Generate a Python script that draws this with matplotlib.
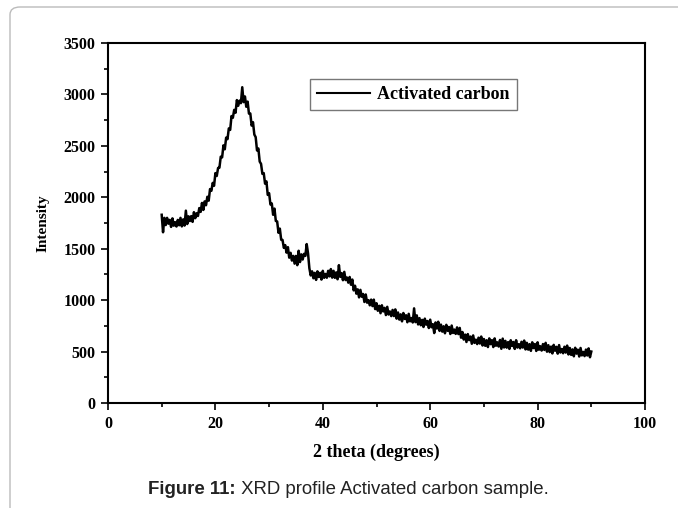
import numpy as np
import matplotlib
matplotlib.use("Agg")
import matplotlib.pyplot as plt
from matplotlib.patches import FancyBboxPatch
from matplotlib.ticker import MultipleLocator

# 2-theta sampled every 0.25 degree from 10 to 90
two_theta = [10 + 0.25 * i for i in range(321)]
intensity = [
    1830, 1660, 1800, 1730,  1800, 1743, 1780, 1712,  1795, 1724, 1758, 1716,
    1780, 1728, 1800, 1717,  1785, 1725, 1870, 1740,  1815, 1769, 1817, 1761,
    1855, 1797, 1845, 1818,  1895, 1858, 1945, 1877,  1960, 1923, 2005, 1967,
    2080, 2063, 2140, 2112,  2235, 2207, 2285, 2288,  2395, 2388, 2505, 2467,
    2580, 2565, 2670, 2655,  2790, 2773, 2850, 2822,  2945, 2890, 2940, 2915,
    3070, 2925, 2980, 2880,  2930, 2813, 2815, 2697,  2730, 2610, 2585, 2455,
    2475, 2347, 2325, 2228,  2235, 2132, 2155, 2023,  2040, 1930, 1940, 1830,
    1890, 1770, 1765, 1655,  1695, 1587, 1585, 1508,  1535, 1462, 1515, 1413,
    1460, 1385, 1430, 1355,  1430, 1340, 1480, 1370,  1445, 1395, 1450, 1430,
    1545, 1455, 1310, 1240,  1280, 1213, 1265, 1197,  1280, 1225, 1265, 1200,
    1285, 1217, 1255, 1218,  1285, 1231, 1302, 1219,  1285, 1217, 1270, 1203,
    1340, 1226, 1263, 1194,  1275, 1195, 1220, 1170,  1225, 1150, 1200, 1095,
    1140, 1063, 1105, 1027,  1100, 1033, 1060, 982,   1055, 975, 1000, 950,
    1005, 942, 1005, 913,    970, 897, 945, 873,      950, 890, 925, 855,
    935, 860, 890, 845,      905, 845, 910, 820,      880, 811, 862, 794,
    875, 817, 853, 785,      867, 794, 826, 783,      920, 786, 852, 764,
    825, 756, 808, 739,      820, 761, 797, 729,      810, 736, 766, 680,
    783, 724, 790, 701,      762, 694, 746, 678,      760, 702, 739, 671,
    753, 681, 714, 672,      735, 670, 730, 635,      690, 617, 665, 593,
    670, 611, 646, 576,      657, 584, 616, 573,      635, 578, 646, 559,
    622, 556, 610, 544,      628, 572, 611, 544,      628, 557, 590, 549,
    613, 527, 626, 540,      604, 538, 592, 526,      610, 554, 593, 526,
    610, 539, 572, 532,      595, 539, 607, 521,      585, 519, 572, 507,
    590, 534, 573, 506,      590, 518, 552, 510,      573, 516, 585, 499,
    562, 495, 548, 482,      565, 508, 546, 480,      563, 491, 525, 484,
    547, 490, 558, 472,      535, 468, 521, 454,      537, 480, 518, 452,
    535, 463, 497, 456,      519, 462, 531, 445,
    500,
]
series_label = "Activated carbon"
x_label = "2 theta (degrees)"
y_label = "Intensity"
caption_bold = "Figure 11:"
caption_rest = " XRD profile Activated carbon sample."

serif = ["Liberation Serif", "DejaVu Serif"]

W, H = 678, 508
fig = plt.figure(figsize=(W / 100, H / 100), dpi=100)
# outer light frame
frame = FancyBboxPatch((10 / W, -0.05), 1.2, 1.05 - 7 / H,
                       boxstyle="round,pad=0,rounding_size=0.015",
                       transform=fig.transFigure, fill=False,
                       edgecolor="#bbbbbb", linewidth=1.0)
fig.patches.append(frame)

ax = fig.add_axes([108 / W, 1 - 403 / H, (645 - 108) / W, (403 - 43) / H])
ax.plot(two_theta, intensity, color="black", linewidth=1.8, label=series_label)
ax.set_xlim(0, 100)
ax.set_ylim(0, 3500)
ax.xaxis.set_major_locator(MultipleLocator(20))
ax.xaxis.set_minor_locator(MultipleLocator(10))
ax.yaxis.set_major_locator(MultipleLocator(500))
ax.yaxis.set_minor_locator(MultipleLocator(250))
ax.tick_params(which="both", direction="out", width=1.2, top=False, right=False)
ax.tick_params(which="major", length=5, labelsize=11.5, pad=4)
ax.tick_params(which="minor", length=3)
for s in ax.spines.values():
    s.set_linewidth(1.5)
for lab in ax.get_xticklabels() + ax.get_yticklabels():
    lab.set_fontfamily(serif)
    lab.set_fontweight("bold")

ax.set_xlabel(x_label, fontfamily=serif, fontweight="bold", fontsize=13, labelpad=9)
ax.set_ylabel(y_label, fontfamily=serif, fontweight="bold", fontsize=11, labelpad=10)

leg = ax.legend(loc="upper left", bbox_to_anchor=((310 - 108) / 537, (403 - 79) / 360),
                borderaxespad=0, frameon=True, fancybox=False, borderpad=0.4,
                handlelength=2.9, handletextpad=0.4,
                prop={"family": serif, "weight": "bold", "size": 13})
leg.get_frame().set_edgecolor("#777777")
leg.get_frame().set_linewidth(1.0)
leg.get_frame().set_alpha(1)
for h in leg.get_lines():
    h.set_linewidth(1.5)

t1 = fig.text(148 / W, 1 - 489 / H, caption_bold, fontfamily="Liberation Sans",
              fontweight="bold", fontsize=13.4, color="#222222", va="center", ha="left")
fig.canvas.draw()
bb = t1.get_window_extent()
fig.text(bb.x1 / W, 1 - 489 / H, caption_rest, fontfamily="Liberation Sans",
         fontsize=13.4, color="#222222", va="center", ha="left")

fig.savefig("out.png", dpi=100)
